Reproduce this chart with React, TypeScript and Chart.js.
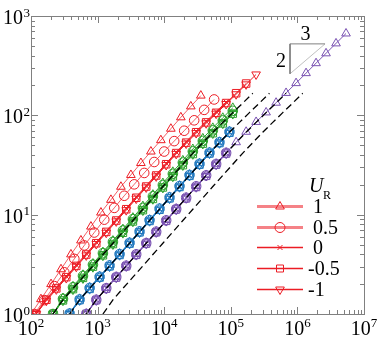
import React, { useEffect, useRef } from "react";
import { Chart, registerables } from "chart.js";
Chart.register(...registerables);

// ---------- data ----------
const xTickExponents = [2, 3, 4, 5, 6, 7];
const yTickExponents = [0, 1, 2, 3];
const legendTitle = "U";
const legendSub = "R";
const legendLabels = ["1", "0.5", "0", "-0.5", "-1"];
const slopeRun = "3";
const slopeRise = "2";

// x positions of samples
const redX = [120, 170, 240, 339, 479, 676, 955, 1349, 1905, 2692, 3802, 5370, 7586, 10715, 15136, 21380, 30200, 42658, 60256, 85114, 120226, 169824, 239883];
const r1X = [100, 141, 200, 282, 398, 562, 794, 1122, 1585, 2239, 3162, 4467, 6310, 8913, 12589, 17783, 25119, 35481];
const r2X = [112, 158, 224, 316, 447, 631, 891, 1259, 1778, 2512, 3548, 5012, 7079, 10000, 14125, 19953, 28184, 39811, 56234];
const greenX = [214, 302, 427, 603, 851, 1202, 1698, 2399, 3388, 4786, 6761, 9550, 13490, 19055, 26915, 38019, 53703, 75858, 107152, 151356, 213796];
const blueX = [380, 537, 759, 1072, 1514, 2138, 3020, 4266, 6026, 8511, 12023, 16982, 23988, 33884, 47863, 67608, 95499, 134896, 190546, 269153, 380189];
const purpleX = [676, 955, 1349, 1905, 2692, 3802, 5370, 7586, 10715, 15136, 21380, 30200, 42658, 60256, 85114, 120226, 169824, 239883, 338844, 478630, 676083, 954993, 1348963, 1905461, 2691535, 3801894, 5370318];
const farX = [1202, 1698, 2399, 3388, 4786, 6761, 9550, 13490, 19055, 26915, 38019, 53703, 75858, 107152, 151356, 213796, 301995, 426580, 602560, 851138, 1202264];

// reference (black dashed) curve values
const theoryY = [1.0, 1.39, 1.81, 2.35, 3.05, 3.97, 5.16, 6.71, 8.73, 11.35, 14.76, 19.19, 24.83, 32.21, 41.69, 53.09, 67.61, 84.92, 106.4, 133.0, 166.7];

// red group
const red1Y = [1.0, 1.41, 2.0, 2.82, 3.98, 5.5, 7.59, 10.5, 14.1, 19.1, 25.1, 33.1, 43.2, 56.2, 73.3, 95.5, 123, 158];
const red05Y = [1.0, 1.38, 1.91, 2.63, 3.59, 4.9, 6.61, 8.91, 11.7, 15.5, 20.2, 26.3, 33.9, 43.2, 55.0, 70.0, 89.1, 113.5, 144.5];
const red0Y = [1.02, 1.42, 1.85, 2.4, 3.12, 4.06, 5.28, 6.86, 8.93, 11.6, 15.1, 19.6, 25.4, 32.9, 42.6, 54.3, 69.2, 86.9, 109, 136];
const redm05Y = [1.0, 1.39, 1.81, 2.35, 3.05, 3.97, 5.16, 6.71, 8.73, 11.35, 14.8, 19.2, 24.8, 32.2, 41.7, 53.1, 67.6, 84.9, 106, 133, 167, 209];
const redm1Y = [1.0, 1.36, 1.77, 2.3, 2.99, 3.89, 5.06, 6.58, 8.56, 11.1, 14.5, 18.8, 24.3, 31.6, 40.9, 52.0, 66.3, 83.2, 104, 130, 163, 205, 258];

// green group
const green1Y = [1.0, 1.45, 1.9, 2.48, 3.22, 4.2, 5.48, 7.15, 9.33, 12.2, 15.9, 20.8, 27.0, 35.2, 45.8, 58.6, 74.8, 94.5, 119];
const green05Y = [1.0, 1.42, 1.86, 2.42, 3.14, 4.1, 5.32, 6.93, 9.02, 11.7, 15.3, 19.9, 25.8, 33.5, 43.4, 55.3, 70.6, 88.9, 111];
const green0Y = [1.0, 1.39, 1.81, 2.35, 3.05, 3.97, 5.16, 6.71, 8.73, 11.35, 14.8, 19.2, 24.8, 32.2, 41.7, 53.1, 67.6, 84.9, 106];
const greenm05Y = [1.0, 1.37, 1.78, 2.31, 3.0, 3.9, 5.06, 6.58, 8.55, 11.1, 14.4, 18.8, 24.3, 31.5, 40.8, 51.9, 66.1, 83.0, 104];
const greenm1Y = [1.0, 1.36, 1.76, 2.28, 2.96, 3.86, 5.01, 6.52, 8.48, 11.0, 14.3, 18.6, 24.1, 31.3, 40.5, 51.5, 65.6, 82.4, 103];

// blue group
const blue1Y = [1.02, 1.42, 1.85, 2.4, 3.11, 4.05, 5.26, 6.84, 8.9, 11.6, 15.1, 19.6, 25.3, 32.9, 42.5, 54.2, 69.0];
const blue05Y = [1.01, 1.4, 1.83, 2.37, 3.08, 4.01, 5.21, 6.78, 8.82, 11.5, 14.9, 19.4, 25.1, 32.5, 42.1, 53.6, 68.3];
const blue0Y = [1.0, 1.39, 1.81, 2.35, 3.05, 3.97, 5.16, 6.71, 8.73, 11.4, 14.8, 19.2, 24.8, 32.2, 41.7, 53.1, 67.6];
const bluem05Y = [1.0, 1.38, 1.79, 2.33, 3.02, 3.93, 5.11, 6.64, 8.64, 11.2, 14.6, 19.0, 24.6, 31.9, 41.3, 52.6, 66.9];
const bluem1Y = [1.0, 1.37, 1.78, 2.31, 3.0, 3.91, 5.08, 6.61, 8.6, 11.2, 14.5, 18.9, 24.5, 31.7, 41.1, 52.3, 66.6];

// purple group
const purple1Y = [1.01, 1.4, 1.83, 2.37, 3.08, 4.01, 5.21, 6.78, 8.82, 11.5, 14.9, 19.4, 25.1, 32.5, 42.1, 53.6, 68.3, 85.8, 107, 134, 168, 211, 266, 335, 421, 530, 667];
const purple05Y = [1.0, 1.39, 1.82, 2.36, 3.06, 3.99, 5.18, 6.74, 8.77, 11.4, 14.8, 19.3, 24.9, 32.4, 41.9];
const purple0Y = [1.0, 1.39, 1.81, 2.35, 3.05, 3.97, 5.16, 6.71, 8.73, 11.4, 14.8, 19.2, 24.8, 32.2, 41.7];
const purplem05Y = [1.0, 1.38, 1.8, 2.33, 3.03, 3.94, 5.12, 6.66, 8.66, 11.3, 14.6, 19.0, 24.6, 31.9, 41.3];
const purplem1Y = [1.0, 1.37, 1.79, 2.32, 3.01, 3.92, 5.09, 6.62, 8.62, 11.2, 14.6, 18.9, 24.5, 31.8, 41.1];

// slope triangle (data coordinates)
const slopeX = [2600000, 775000, 775000];
const slopeY = [524, 524, 262];
const slopeHypX = [775000, 2600000];
const slopeHypY = [262, 524];

// ---------- styles ----------
const RED = "rgb(236,28,36)";
const GREEN = "rgb(44,160,44)";
const BLUE = "rgb(31,119,190)";
const PURPLE = "rgb(122,82,178)";
const AXIS = "#808080";
const SERIF = '"Liberation Serif", "Times New Roman", serif';

type Mk = "tri" | "circ" | "x" | "sq" | "down";
const MK: Record<Mk, { style: any; rot: number; r: number }> = {
  tri: { style: "triangle", rot: 0, r: 5 },
  circ: { style: "circle", rot: 0, r: 4.8 },
  x: { style: "crossRot", rot: 0, r: 4 },
  sq: { style: "rect", rot: 0, r: 5.3 },
  down: { style: "triangle", rot: 180, r: 5 },
};

function series(xs: number[], ys: number[], color: string, mk: Mk, lineColor?: string) {
  const m = MK[mk];
  return {
    data: ys.map((y, i) => ({ x: xs[i], y })),
    showLine: true,
    borderColor: lineColor || color,
    borderWidth: 1,
    backgroundColor: "rgba(0,0,0,0)",
    pointStyle: m.style,
    pointRotation: m.rot,
    pointRadius: m.r,
    pointBorderColor: color,
    pointBackgroundColor: "rgba(0,0,0,0)",
    pointBorderWidth: 1,
  };
}

function guide(xs: number[], ys: number[], color: string, dash: number[], width: number) {
  return {
    data: ys.map((y, i) => ({ x: xs[i], y })),
    showLine: true,
    borderColor: color,
    borderWidth: width,
    borderDash: dash,
    pointRadius: 0,
    backgroundColor: "rgba(0,0,0,0)",
  };
}

function drawMarker(ctx: CanvasRenderingContext2D, mk: Mk, cx: number, cy: number) {
  ctx.beginPath();
  if (mk === "tri") {
    const r = 5;
    ctx.moveTo(cx, cy - r);
    ctx.lineTo(cx - r * 0.866, cy + r / 2);
    ctx.lineTo(cx + r * 0.866, cy + r / 2);
    ctx.closePath();
  } else if (mk === "down") {
    const r = 5;
    ctx.moveTo(cx, cy + r);
    ctx.lineTo(cx - r * 0.866, cy - r / 2);
    ctx.lineTo(cx + r * 0.866, cy - r / 2);
    ctx.closePath();
  } else if (mk === "circ") {
    ctx.arc(cx, cy, 5, 0, Math.PI * 2);
  } else if (mk === "sq") {
    ctx.rect(cx - 3.5, cy - 3.5, 7, 7);
  } else {
    const a = 2.5;
    ctx.moveTo(cx - a, cy - a);
    ctx.lineTo(cx + a, cy + a);
    ctx.moveTo(cx + a, cy - a);
    ctx.lineTo(cx - a, cy + a);
  }
  ctx.stroke();
}

const decor = {
  id: "decor",
  afterDraw(chart: any) {
    const ctx: CanvasRenderingContext2D = chart.ctx;
    const { left, right, top, bottom } = chart.chartArea;
    const xs = chart.scales.x;
    const ys = chart.scales.y;
    ctx.save();
    // frame
    ctx.strokeStyle = AXIS;
    ctx.lineWidth = 1;
    ctx.strokeRect(Math.round(left) + 0.5, Math.round(top) + 0.5, Math.round(right - left), Math.round(bottom - top));
    // ticks
    ctx.beginPath();
    for (let d = 2; d <= 7; d++) {
      for (let m = 1; m <= 9; m++) {
        const v = m * Math.pow(10, d);
        if (v > 1e7 * 1.0001) continue;
        const p = Math.round(xs.getPixelForValue(v)) + 0.5;
        const len = m === 1 ? 7 : 4;
        ctx.moveTo(p, bottom);
        ctx.lineTo(p, bottom - len);
        ctx.moveTo(p, top);
        ctx.lineTo(p, top + len);
      }
    }
    for (let d = 0; d <= 3; d++) {
      for (let m = 1; m <= 9; m++) {
        const v = m * Math.pow(10, d);
        if (v > 1000 * 1.0001) continue;
        const p = Math.round(ys.getPixelForValue(v)) + 0.5;
        const len = m === 1 ? 7 : 4;
        ctx.moveTo(left, p);
        ctx.lineTo(left + len, p);
        ctx.moveTo(right, p);
        ctx.lineTo(right - len, p);
      }
    }
    ctx.stroke();

    // tick labels
    ctx.fillStyle = "#000";
    ctx.textBaseline = "alphabetic";
    const big = `20px ${SERIF}`;
    const small = `13px ${SERIF}`;
    xTickExponents.forEach((e) => {
      const p = xs.getPixelForValue(Math.pow(10, e));
      ctx.font = big;
      const w1 = ctx.measureText("10").width;
      ctx.font = small;
      const w2 = ctx.measureText(String(e)).width;
      const x0 = p - (w1 + w2) / 2;
      ctx.font = big;
      ctx.textAlign = "left";
      ctx.fillText("10", x0, bottom + 21);
      ctx.font = small;
      ctx.fillText(String(e), x0 + w1, bottom + 13);
    });
    yTickExponents.forEach((e) => {
      const p = ys.getPixelForValue(Math.pow(10, e));
      ctx.font = big;
      ctx.textAlign = "left";
      ctx.fillText("10", 3, p + 8);
      ctx.font = small;
      ctx.fillText(String(e), 23.5, p + 0.5);
    });

    // slope triangle labels
    const tx = (xs.getPixelForValue(slopeX[1]) + xs.getPixelForValue(slopeX[0])) / 2;
    const ty = ys.getPixelForValue(slopeY[0]);
    const vx = xs.getPixelForValue(slopeX[1]);
    const vy = (ys.getPixelForValue(slopeY[1]) + ys.getPixelForValue(slopeY[2])) / 2;
    ctx.font = big;
    ctx.textAlign = "center";
    ctx.fillText(slopeRun, tx - 2, ty - 4);
    ctx.textAlign = "right";
    ctx.fillText(slopeRise, vx - 4, vy + 8);

    // legend
    const rows = [206, 227, 247, 268, 289];
    const mks: Mk[] = ["tri", "circ", "x", "sq", "down"];
    ctx.textAlign = "left";
    ctx.font = `italic 20px ${SERIF}`;
    ctx.fillText(legendTitle, 309, 192);
    ctx.font = `12px ${SERIF}`;
    ctx.fillText(legendSub, 323, 199);
    rows.forEach((ry, i) => {
      ctx.beginPath();
      if (i < 2) {
        ctx.strokeStyle = "rgba(236,28,36,0.55)";
        ctx.lineWidth = 3;
      } else {
        ctx.strokeStyle = RED;
        ctx.lineWidth = 1.3;
      }
      ctx.moveTo(257, ry + 0.5);
      ctx.lineTo(303, ry + 0.5);
      ctx.stroke();
      ctx.strokeStyle = RED;
      ctx.lineWidth = 1;
      drawMarker(ctx, mks[i], 280, ry + 0.5);
      ctx.fillStyle = "#000";
      ctx.font = big;
      const lab = legendLabels[i];
      ctx.fillText(lab, lab.startsWith("-") ? 308 : 313, ry + 7);
    });
    ctx.restore();
  },
};

export default function App() {
  const ref = useRef<HTMLCanvasElement>(null);
  useEffect(() => {
    const canvas = ref.current!;
    const datasets: any[] = [
      // reference curves (drawn on top)
      guide(greenX, theoryY, "#000", [7, 4], 1.3),
      guide(blueX, theoryY, "#000", [7, 4], 1.3),
      guide(purpleX, theoryY, "#000", [7, 4], 1.3),
      guide(farX, theoryY, "#000", [7, 4], 1.3),
      guide(slopeX, slopeY, AXIS, [], 1),
      guide(slopeHypX, slopeHypY, "#c0c0c0", [], 1),
      // purple
      series(purpleX, purple1Y, PURPLE, "tri"),
      series(purpleX, purple05Y, PURPLE, "circ"),
      series(purpleX, purple0Y, PURPLE, "x"),
      series(purpleX, purplem05Y, PURPLE, "sq"),
      series(purpleX, purplem1Y, PURPLE, "down"),
      // blue
      series(blueX, blue1Y, BLUE, "tri"),
      series(blueX, blue05Y, BLUE, "circ"),
      series(blueX, blue0Y, BLUE, "x"),
      series(blueX, bluem05Y, BLUE, "sq"),
      series(blueX, bluem1Y, BLUE, "down"),
      // green
      series(greenX, green1Y, GREEN, "tri"),
      series(greenX, green05Y, GREEN, "circ"),
      series(greenX, green0Y, GREEN, "x"),
      series(greenX, greenm05Y, GREEN, "sq"),
      series(greenX, greenm1Y, GREEN, "down"),
      // red
      series(r1X, red1Y, RED, "tri", "rgba(236,28,36,0.7)"),
      series(r2X, red05Y, RED, "circ", "rgba(236,28,36,0.7)"),
      series(redX, red0Y, RED, "x"),
      series(redX, redm05Y, RED, "sq"),
      series(redX, redm1Y, RED, "down"),
    ];
    const chart = new Chart(canvas, {
      type: "scatter",
      data: { datasets },
      options: {
        animation: false,
        responsive: false,
        devicePixelRatio: 1,
        layout: { padding: { left: 31, top: 16, right: 16, bottom: 24 } },
        elements: { line: { tension: 0 } },
        plugins: { legend: { display: false }, tooltip: { enabled: false } },
        scales: {
          x: { type: "logarithmic", min: 100, max: 1e7, display: false },
          y: { type: "logarithmic", min: 1, max: 1000, display: false },
        },
      },
      plugins: [decor],
    } as any);
    return () => chart.destroy();
  }, []);
  return (
    <div style={{ position: "absolute", left: 0, top: 0, width: 380, height: 338, background: "#fff" }}>
      <canvas ref={ref} width={380} height={338} style={{ display: "block" }} />
    </div>
  );
}
